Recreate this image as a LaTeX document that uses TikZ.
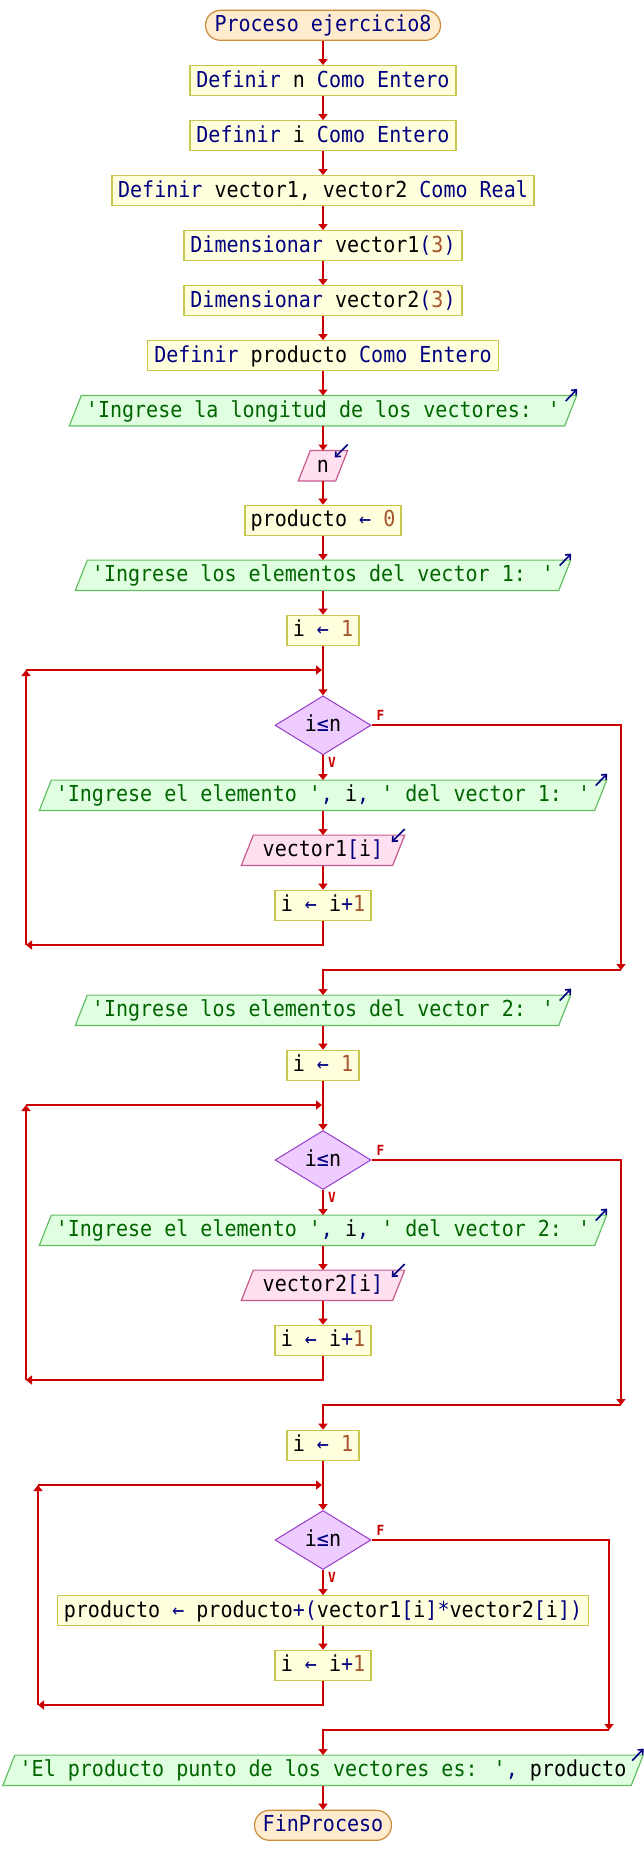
\documentclass[tikz,border=0pt]{standalone}
\usepackage{fontspec}
\newfontfamily\pf[FakeStretch=0.91,Ligatures=TeXOff]{DejaVu Sans Mono}
\usetikzlibrary{arrows.meta,shapes.geometric,calc}
\pgfdeclarelayer{bg}
\pgfsetlayers{bg,main}
\definecolor{kwc}{RGB}{0,0,128}
\definecolor{strc}{RGB}{0,100,0}
\definecolor{numc}{RGB}{165,85,45}
\definecolor{flowc}{RGB}{204,0,0}
\definecolor{procfill}{RGB}{255,255,221}
\definecolor{procdraw}{RGB}{200,200,80}
\definecolor{termfill}{RGB}{255,236,206}
\definecolor{termdraw}{RGB}{205,140,60}
\definecolor{outfill}{RGB}{224,255,224}
\definecolor{outdraw}{RGB}{100,190,100}
\definecolor{infill}{RGB}{255,224,240}
\definecolor{indraw}{RGB}{200,90,140}
\definecolor{condfill}{RGB}{238,204,255}
\definecolor{conddraw}{RGB}{150,60,200}
\newcommand\pkw[1]{\textcolor{kwc}{#1}}
\newcommand\pstr[1]{\textcolor{strc}{#1}}
\newcommand\pnum[1]{\textcolor{numc}{#1}}
\newcommand\pop[1]{\textcolor{kwc}{#1}}
\tikzset{
  base/.style={font=\pf\fontsize{22}{26}\selectfont, inner sep=0pt, minimum height=30pt, text height=13.2pt, text depth=0pt},
  proc/.style={base, draw=procdraw, fill=procfill, line width=1.2pt},
  term/.style={base, draw=termdraw, fill=termfill, rounded corners=15pt, line width=1.2pt},
  cond/.style={base, diamond, draw=conddraw, fill=condfill, line width=1pt, minimum width=96pt, minimum height=59pt},
  flow/.style={draw=flowc, line width=2pt, -{Triangle[width=9pt,length=6pt]}},
  lbl/.style={font=\pf\bfseries\fontsize{14}{14}\selectfont, text=flowc, inner sep=0pt},
  ioarrow/.style={draw=kwc, line width=1.6pt, -{Straight Barb[length=4pt,width=7pt]}}
}
\newcommand\outpar[4]{%
  \node[base, minimum width=#3] (#1) at (323,#2) {#4};
  \begin{pgfonlayer}{bg}
    \draw[fill=outfill, draw=outdraw, line width=1.2pt] ([xshift=-6pt]#1.south west) -- ([xshift=6pt]#1.north west) -- ([xshift=6pt]#1.north east) -- ([xshift=-6pt]#1.south east) -- cycle;
  \end{pgfonlayer}
  \draw[ioarrow] ($(#1.north east)+(-5,5.5)$) -- ($(#1.north east)+(6.5,-6.5)$);}
\newcommand\inpar[4]{%
  \node[base, minimum width=#3] (#1) at (323,#2) {#4};
  \begin{pgfonlayer}{bg}
    \draw[fill=infill, draw=indraw, line width=1.2pt] ([xshift=-6pt]#1.south west) -- ([xshift=6pt]#1.north west) -- ([xshift=6pt]#1.north east) -- ([xshift=-6pt]#1.south east) -- cycle;
  \end{pgfonlayer}
  \draw[ioarrow] ($(#1.north east)+(6,-6)$) -- ($(#1.north east)+(-7,7)$);}
\begin{document}
\begin{tikzpicture}[x=1pt,y=-1pt]
\begin{pgfonlayer}{bg}
\fill[white] (0,0) rectangle (644,1875);
\end{pgfonlayer}
\useasboundingbox (0,0) rectangle (644,1875);

% nodes
\node[term, minimum width=235pt] (start) at (323,25.3) {\pkw{Proceso ejercicio8}};
\node[proc, minimum width=266pt] (def1) at (323,80.7) {\pkw{Definir} n \pkw{Como Entero}};
\node[proc, minimum width=266pt] (def2) at (323,135.7) {\pkw{Definir} i \pkw{Como Entero}};
\node[proc, minimum width=422pt] (def3) at (323,190.7) {\pkw{Definir} vector1, vector2 \pkw{Como Real}};
\node[proc, minimum width=278pt] (dim1) at (323,245.7) {\pkw{Dimensionar} vector1\pop{(}\pnum{3}\pop{)}};
\node[proc, minimum width=278pt] (dim2) at (323,300.7) {\pkw{Dimensionar} vector2\pop{(}\pnum{3}\pop{)}};
\node[proc, minimum width=351pt] (def4) at (323,355.7) {\pkw{Definir} producto \pkw{Como Entero}};
\outpar{o0}{410.7}{495pt}{\pstr{'Ingrese la longitud de los vectores: '}}
\inpar{rn}{465.7}{37pt}{n}
\node[proc, minimum width=156pt] (a0) at (323,520.3) {producto \pop{←} \pnum{0}};
\outpar{o1}{575.3}{483pt}{\pstr{'Ingrese los elementos del vector 1: '}}
\node[proc, minimum width=72pt] (i1) at (323,630.3) {i \pop{←} \pnum{1}};
\node[cond] (d1) at (323,725.3) {i\pop{≤}n};
\outpar{o2}{795.3}{555pt}{\pstr{'Ingrese el elemento '}\pop{,} i\pop{,} \pstr{' del vector 1: '}}
\inpar{r1}{850.3}{151pt}{vector1\pop{[}i\pop{]}}
\node[proc, minimum width=96pt] (k1) at (323,905.3) {i \pop{←} i\pop{+}\pnum{1}};
\outpar{o3}{1010.3}{483pt}{\pstr{'Ingrese los elementos del vector 2: '}}
\node[proc, minimum width=72pt] (i2) at (323,1065.3) {i \pop{←} \pnum{1}};
\node[cond] (d2) at (323,1160) {i\pop{≤}n};
\outpar{o4}{1230.3}{555pt}{\pstr{'Ingrese el elemento '}\pop{,} i\pop{,} \pstr{' del vector 2: '}}
\inpar{r2}{1285.3}{151pt}{vector2\pop{[}i\pop{]}}
\node[proc, minimum width=96pt] (k2) at (323,1340.3) {i \pop{←} i\pop{+}\pnum{1}};
\node[proc, minimum width=72pt] (i3) at (323,1445.3) {i \pop{←} \pnum{1}};
\node[cond] (d3) at (323,1540) {i\pop{≤}n};
\node[proc, minimum width=531pt] (a3) at (323,1610.7) {producto \pop{←} producto\pop{+(}vector1\pop{[}i\pop{]*}vector2\pop{[}i\pop{])}};
\node[proc, minimum width=96pt] (k3) at (323,1665.3) {i \pop{←} i\pop{+}\pnum{1}};
\outpar{of}{1770.3}{628pt}{\pstr{'El producto punto de los vectores es: '}\pop{,} producto}
\node[term, minimum width=137pt] (end) at (323,1825.3) {\pkw{FinProceso}};

% labels
\node[lbl] (f1) at ($(d1.east)+(9,-10)$) {F};
\node[lbl] (v1) at ($(d1.south)+(9,7.5)$) {V};
\node[lbl] (f2) at ($(d2.east)+(9,-10)$) {F};
\node[lbl] (v2) at ($(d2.south)+(9,7.5)$) {V};
\node[lbl] (f3) at ($(d3.east)+(9,-10)$) {F};
\node[lbl] (v3) at ($(d3.south)+(9,7.5)$) {V};

% coordinates
\coordinate (jt1) at (322,670);
\coordinate (lt1) at (26,670);
\coordinate (lb1) at (26,945);
\coordinate (fr1) at (621,970);
\coordinate (jb1) at (323,970);
\coordinate (jt2) at (322,1105);
\coordinate (lt2) at (26,1105);
\coordinate (lb2) at (26,1380);
\coordinate (fr2) at (621,1405);
\coordinate (jb2) at (323,1405);
\coordinate (jt3) at (322,1485);
\coordinate (lt3) at (38,1485);
\coordinate (lb3) at (38,1705);
\coordinate (fr3) at (609,1730);
\coordinate (jb3) at (323,1730);

% straight flow
\draw[flow] (start.south) -- (def1.north);
\draw[flow] (def1.south) -- (def2.north);
\draw[flow] (def2.south) -- (def3.north);
\draw[flow] (def3.south) -- (dim1.north);
\draw[flow] (dim1.south) -- (dim2.north);
\draw[flow] (dim2.south) -- (def4.north);
\draw[flow] (def4.south) -- (o0.north);
\draw[flow] (o0.south) -- (rn.north);
\draw[flow] (rn.south) -- (a0.north);
\draw[flow] (a0.south) -- (o1.north);
\draw[flow] (o1.south) -- (i1.north);

% loop 1
\draw[flow] (i1.south) -- (d1.north);
\draw[flow] (d1.south) -- (o2.north);
\draw[flow] (o2.south) -- (r1.north);
\draw[flow] (r1.south) -- (k1.north);
\draw[flow] (k1.south) |- (lb1);
\draw[flow] (lb1) -- (lt1);
\draw[flow] (lt1) -- (jt1);
\draw[flow] (d1.east) -| (fr1);
\draw[flow] (fr1) -- (jb1) -- (o3.north);

% loop 2
\draw[flow] (o3.south) -- (i2.north);
\draw[flow] (i2.south) -- (d2.north);
\draw[flow] (d2.south) -- (o4.north);
\draw[flow] (o4.south) -- (r2.north);
\draw[flow] (r2.south) -- (k2.north);
\draw[flow] (k2.south) |- (lb2);
\draw[flow] (lb2) -- (lt2);
\draw[flow] (lt2) -- (jt2);
\draw[flow] (d2.east) -| (fr2);
\draw[flow] (fr2) -- (jb2) -- (i3.north);

% loop 3
\draw[flow] (i3.south) -- (d3.north);
\draw[flow] (d3.south) -- (a3.north);
\draw[flow] (a3.south) -- (k3.north);
\draw[flow] (k3.south) |- (lb3);
\draw[flow] (lb3) -- (lt3);
\draw[flow] (lt3) -- (jt3);
\draw[flow] (d3.east) -| (fr3);
\draw[flow] (fr3) -- (jb3) -- (of.north);
\draw[flow] (of.south) -- (end.north);
\end{tikzpicture}
\end{document}
